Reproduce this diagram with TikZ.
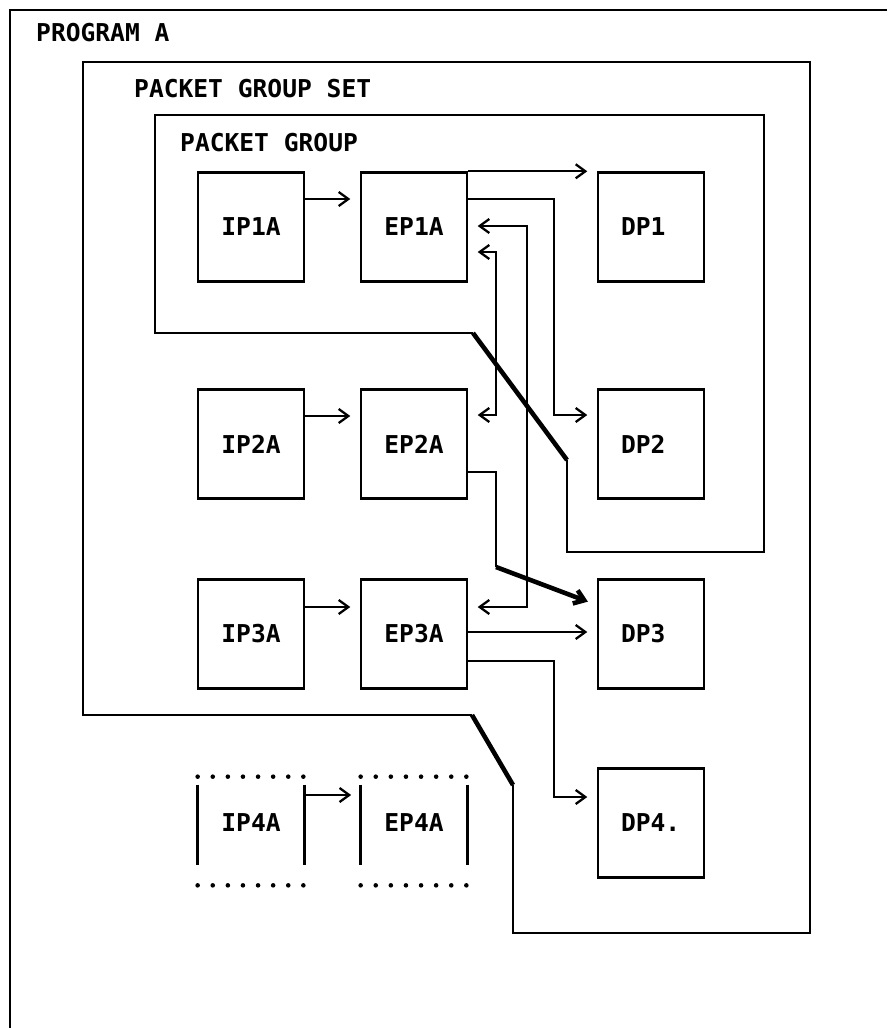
\documentclass[tikz,border=0pt]{standalone}
\usepackage{fontspec}
\setmonofont{DejaVu Sans Mono}
\usepackage{tikz}
\usetikzlibrary{arrows.meta,calc}

\tikzset{
  fence/.style={line width=1.4pt},
  unit/.style={draw,line width=1.4pt,minimum width=2.12cm,minimum height=2.18cm,
    font=\ttfamily\bfseries\fontsize{14pt}{16pt}\selectfont},
  ghost/.style={minimum width=2.12cm,minimum height=2.16cm,
    font=\ttfamily\bfseries\fontsize{14pt}{16pt}\selectfont},
  sink/.style={unit,text width=1.2cm,align=left},
  lbl/.style={anchor=west,font=\ttfamily\bfseries\fontsize{14pt}{16pt}\selectfont},
  flow/.style={line width=1.3pt,-{Straight Barb[length=5.5pt,width=8pt]},shorten >=0.19cm},
  both/.style={line width=1.3pt,{Straight Barb[length=5.5pt,width=8pt]}-{Straight Barb[length=5.5pt,width=8pt]},
    shorten >=0.19cm,shorten <=0.19cm},
  dots/.style={line width=2.6pt,line cap=round,dash pattern=on 0pt off 0.302cm}
}

\begin{document}
\begin{tikzpicture}[x=0.02cm,y=-0.02cm]
 \useasboundingbox (0,0) rectangle (887,1028);
 % program frame, cut by the page edge
 \draw[fence] (10,1028) -- (10,10) -- (887,10);
 \node[lbl] (prog) at (30,33) {PROGRAM A};
 % packet group set
 \draw[fence] (513,785) -- (513,933) -- (810,933) -- (810,62) -- (83,62) -- (83,715) -- (472,715);
 \draw[fence,line width=2.6pt] (472,715) -- (513,785);
 \node[lbl] (pgset) at (128,89) {PACKET GROUP SET};
 % packet group
 \draw[fence] (567,460) -- (567,552) -- (764,552) -- (764,115) -- (155,115) -- (155,333) -- (473,333);
 \draw[fence,line width=2.6pt] (473,333) -- (567,460);
 \node[lbl] (pg) at (174,143) {PACKET GROUP};

 % packets
 \foreach \n/\y in {1/227,2/444,3/634} {
  \node[unit] (IP\n A) at (251,\y) {IP\n A};
  \node[unit] (EP\n A) at (414,\y) {EP\n A};
  \node[sink] (DP\n) at (651,\y) {DP\n};
 }
 \node[ghost] (IP4A) at (251,823) {IP4A};
 \node[ghost] (EP4A) at (414,823) {EP4A};
 \node[sink] (DP4) at (651,823) {DP4.};
 \foreach \p in {IP4A,EP4A} {
  \draw[dots] (\p.north west) ++(0,8) -- ++(106,0);
  \draw[dots] (\p.south west) ++(0,8) -- ++(106,0);
  \draw[fence] (\p.north west) ++(0,16) -- ++(0,80);
  \draw[fence] (\p.north east) ++(0,16) -- ++(0,80);
 }

 % IP -> EP
 \foreach \n/\y in {1/199,2/416,3/607,4/795}
  \draw[flow] (IP\n A.east |- 0,\y) -- (EP\n A.west |- 0,\y);

 % EP -> DP, and links back
 \draw[flow] (EP1A.north east) -- (DP1.west |- EP1A.north);
 \draw[flow] (EP1A.east |- 0,199) -| (554,415) -- (DP2.west |- 0,415);
 \draw[both] (EP1A.east |- 0,252) -| (496,415) -- (EP2A.east |- 0,415);
 \draw[both] (EP1A.east |- 0,226) -| (527,607) -- (EP3A.east |- 0,607);
 \draw[line width=1.3pt] (EP2A.east |- 0,472) -| (496,567) coordinate (kink);
 \draw[flow,line width=2.6pt] (kink) -- (DP3.west |- 0,605);
 \draw[flow] (EP3A.east |- 0,632) -- (DP3.west |- 0,632);
 \draw[flow] (EP3A.east |- 0,661) -| (554,797) -- (DP4.west |- 0,797);
\end{tikzpicture}
\end{document}
